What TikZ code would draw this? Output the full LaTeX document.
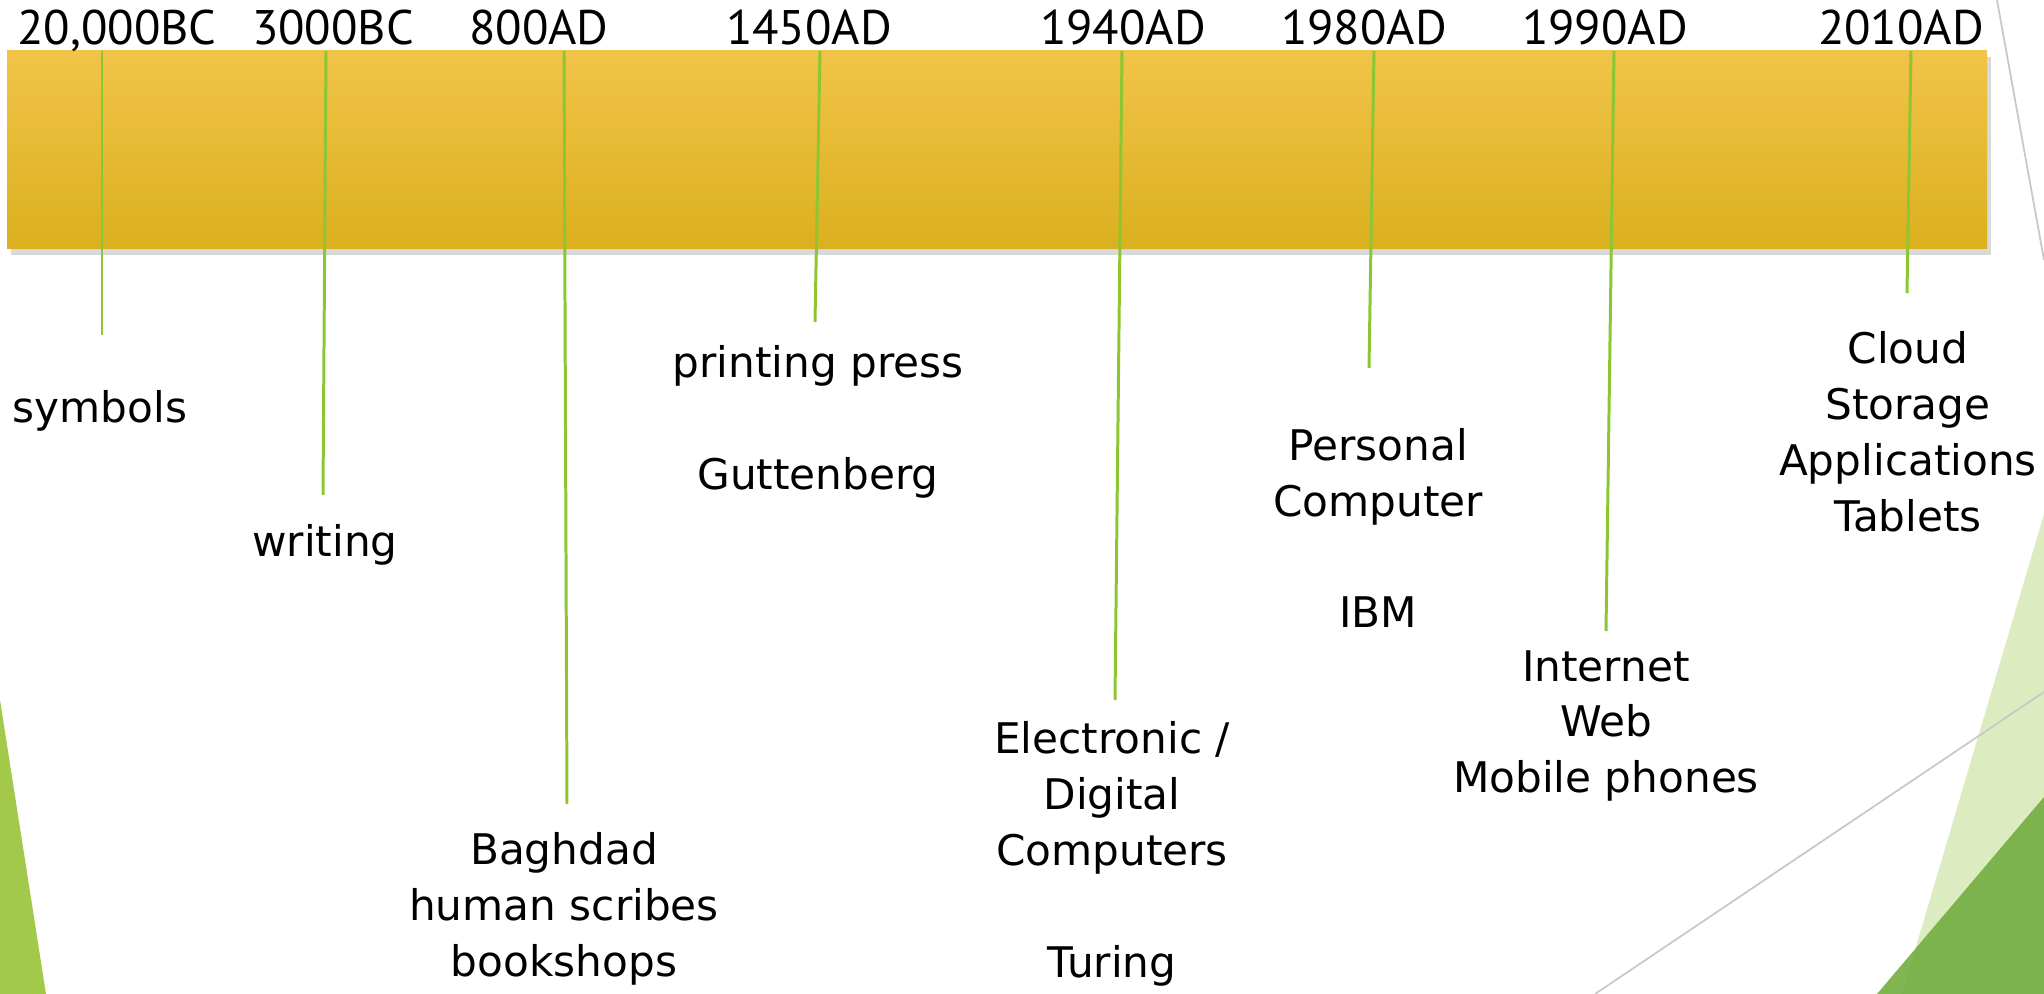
\documentclass[tikz,border=0pt]{standalone}
\usepackage{fontspec}
\setmainfont{DejaVu Sans}
\newfontfamily\yearfont{PT Sans}
\usetikzlibrary{calc, shadows}
\definecolor{barTop}{RGB}{241,196,72}
\definecolor{barBottom}{RGB}{218,176,31}
\definecolor{tickGreen}{RGB}{140,198,50}
\definecolor{leafGreen}{RGB}{162,201,74}
\definecolor{paleGreen}{RGB}{221,235,193}
\definecolor{deepGreen}{RGB}{118,175,68}
\definecolor{thinGray}{RGB}{200,200,200}

\begin{document}
\begin{tikzpicture}[x=0.01cm, y=-0.01cm,
	yearlabel/.style={anchor=base, inner sep=0pt, font=\yearfont\fontsize{13.8}{16}\selectfont},
	eventlabel/.style={align=center, inner sep=0pt, font=\fontsize{12}{15.9}\selectfont},
	tick/.style={draw=tickGreen, line width=0.85pt}]
				\useasboundingbox (0,0) rectangle (2044,994);
				%Decoration at the borders
				\fill[leafGreen] (0,700) -- (46,994) -- (0,994) -- cycle;
				\fill[paleGreen] (2044,514) -- (1902,994) -- (2044,994) -- cycle;
				\fill[deepGreen, opacity=0.93] (2044,797) -- (1877,994) -- (2044,994) -- cycle;
				\draw[thinGray, line width=0.5pt] (1997,0) -- (2044,260);
				\draw[thinGray, line width=0.5pt] (2044,692) -- (1595,994);
				%The time bar
				\path[drop shadow={shadow xshift=0.04cm, shadow yshift=-0.06cm, opacity=0.3},
					top color=barTop, bottom color=barBottom] (7,51) rectangle (1987,249);
				%Years above the bar
				\node [yearlabel] (year1) at (117,45) {20,000BC};
				\node [yearlabel] (year2) at (333,45) {3000BC};
				\node [yearlabel] (year3) at (539,45) {800AD};
				\node [yearlabel] (year4) at (809,45) {1450AD};
				\node [yearlabel] (year5) at (1123,45) {1940AD};
				\node [yearlabel] (year6) at (1364,45) {1980AD};
				\node [yearlabel] (year7) at (1605,45) {1990AD};
				\node [yearlabel] (year8) at (1901,45) {2010AD};
				%Green ticks from the bar down to the events
				\foreach \n/\xt/\xb/\yb in {1/102/102/335, 2/326/323/495, 3/564/567/804,
					4/820/815/322, 5/1122/1115/700, 6/1374/1369/368, 7/1614/1606/631, 8/1911/1907/293} {
					\coordinate (top\n) at (\xt,51);
					\coordinate (bot\n) at (\xb,\yb);
					\draw [tick] (top\n) -- (bot\n);
				}
				%Events below the bar
				\node [eventlabel] (event1) at (100,411) {symbols};
				\node [eventlabel] (event2) at (325,545) {writing};
				\node [eventlabel] (event3) at (564,909) {Baghdad\\human scribes\\bookshops};
				\node [eventlabel] (event4) at (818,422) {printing press\\[15.9pt]Guttenberg};
				\node [eventlabel] (event5) at (1112,854) {Electronic /\\Digital\\Computers\\[15.9pt]Turing};
				\node [eventlabel] (event6) at (1378,528) {Personal\\Computer\\[15.9pt]IBM};
				\node [eventlabel] (event7) at (1606,726) {Internet\\Web\\Mobile phones};
				\node [eventlabel] (event8) at (1908,432) {Cloud\\Storage\\Applications\\Tablets};
\end{tikzpicture}
\end{document}
